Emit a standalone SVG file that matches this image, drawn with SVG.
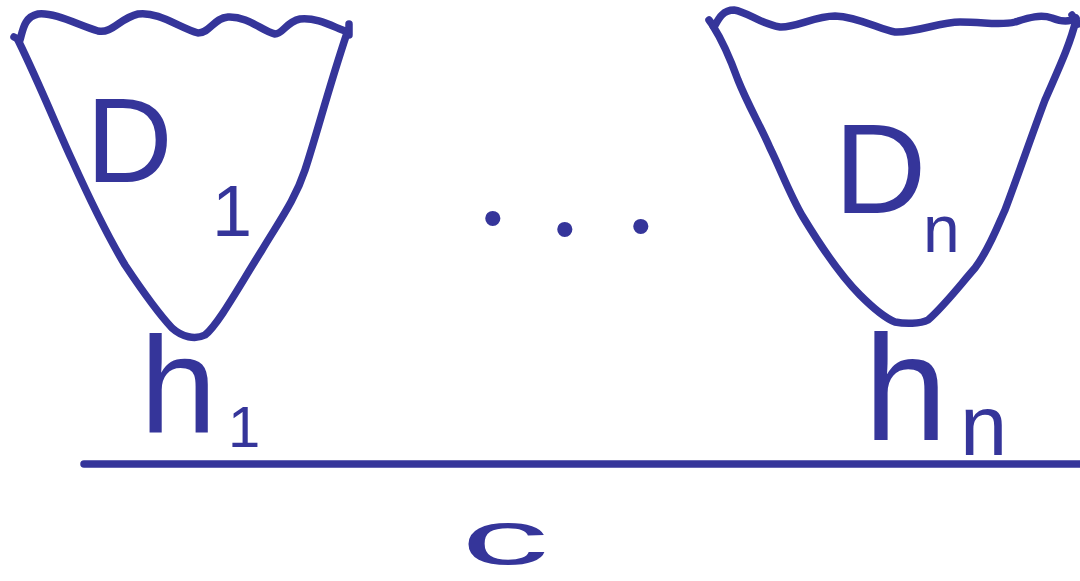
<svg xmlns="http://www.w3.org/2000/svg" width="1080" height="581" viewBox="0 0 1080 581">
<style>
.ink{fill:none;stroke:#35359a;stroke-width:7.5;stroke-linecap:round;stroke-linejoin:round}
.lbl{fill:#35359a;font-family:"Liberation Sans","DejaVu Sans",sans-serif}
</style>
<rect width="1080" height="581" fill="#ffffff"/>
<g id="D1">
<path class="ink" d="M14,37 L20,40 C23,30 24,17 38,14 C55,12 80,26 98,31 C112,34 120,18 138,14 C158,11 180,28 198,33 C210,33 214,18 228,17 C248,16 262,31 275,34 C283,34 286,22 300,19 C318,17 335,28 348,32 M349,24 L349,35"/>
<path class="ink" d="M18,40 C40,85 58,130 72,160 C90,200 110,240 125,265 C145,295 158,313 172,328 C182,337 195,340 205,335 C218,325 240,285 262,250 C280,220 295,200 305,170 C318,130 328,90 347,33"/>
<text class="lbl" x="86" y="182" font-size="120">D</text>
<text class="lbl" x="212" y="236" font-size="72">1</text>
</g>
<g id="Dn">
<path class="ink" d="M709,20 L714,27 C718,20 722,10 734,10 C748,12 760,24 780,27 C795,28 815,16 835,16 C860,17 880,30 895,32 C915,33 940,22 960,22 C985,22 1000,26 1015,22 C1028,18 1040,14 1052,18 C1062,22 1070,22 1076,18 M1072,15 L1078,24"/>
<path class="ink" d="M713,26 C722,40 730,58 738,80 C748,105 760,125 770,148 C780,168 790,195 803,217 C820,245 840,275 860,295 C875,310 885,318 895,322 C905,324 920,324 928,320 C945,305 960,285 975,268 C990,248 998,225 1005,210 C1020,170 1030,140 1045,100 C1058,70 1070,45 1076,20"/>
<text class="lbl" x="834" y="213" font-size="128">D</text>
<text class="lbl" x="923" y="252" font-size="66">n</text>
</g>
<g id="dots">
<text class="lbl" font-size="56"><tspan x="483" y="237">•</tspan><tspan x="555" y="248">•</tspan><tspan x="631" y="245">•</tspan></text>
</g>
<g id="h1">
<text class="lbl" x="140" y="433" font-size="138">h</text>
<text class="lbl" x="228" y="447" font-size="58">1</text>
</g>
<g id="hn">
<text class="lbl" x="864" y="440" font-size="150">h</text>
<text class="lbl" x="960" y="455" font-size="85">n</text>
</g>
<g id="connectors">
<line class="ink" x1="84" y1="464" x2="1080" y2="464" stroke-width="8"/>
</g>
<g id="c">
<text class="lbl" x="461" y="564" font-size="76" textLength="88" lengthAdjust="spacingAndGlyphs">c</text>
</g>
</svg>
